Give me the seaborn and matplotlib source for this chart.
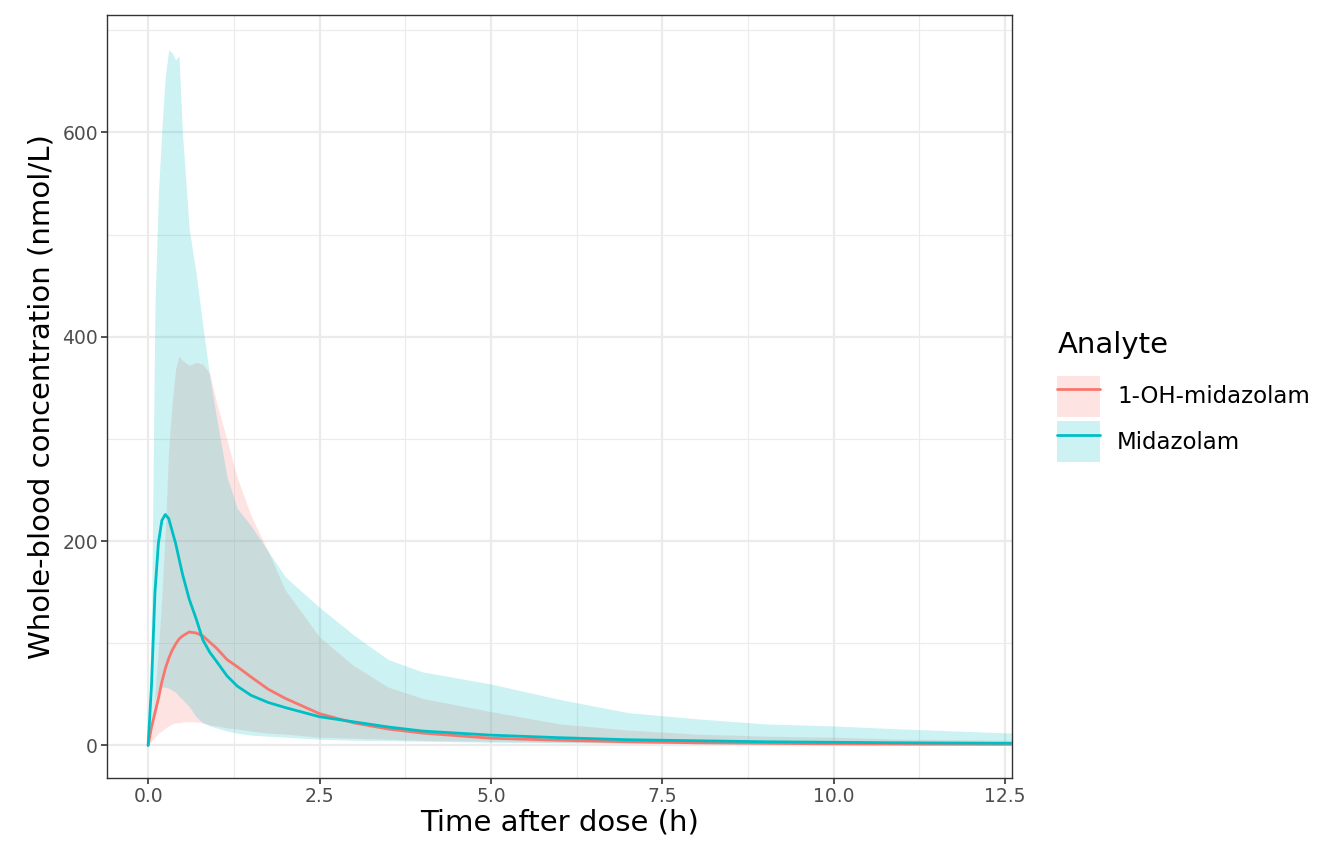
import matplotlib
matplotlib.use("Agg")
import matplotlib.pyplot as plt
import seaborn as sns
import pandas as pd
import numpy as np
from matplotlib.patches import Patch
from matplotlib.lines import Line2D
from matplotlib.ticker import MultipleLocator

# time grid (h)
time_h = [0, 0.05, 0.1, 0.15, 0.2, 0.25, 0.3, 0.35, 0.4, 0.45, 0.5, 0.6, 0.7, 0.8, 0.9, 1.0,
          1.15, 1.3, 1.5, 1.75, 2.0, 2.5, 3.0, 3.5, 4.0, 5.0, 6.0, 7.0, 8.0, 9.0, 10.0, 11.0, 12.6]

# Midazolam: median and band
mid_med = [0, 60, 150, 198, 220, 226, 222, 210, 198, 183, 168, 143, 124, 103, 91, 82,
           68, 58, 49, 42, 37, 28, 23, 18, 14, 10, 7.5, 5.5, 4.5, 3.5, 3, 2.5, 2]
mid_lo = [0, 20, 45, 55, 57, 57, 56, 54, 52, 48, 45, 38, 28, 22, 19, 17,
          14, 12, 10, 9, 8, 6, 5, 4.5, 4, 3, 2.5, 2, 1.5, 1.2, 1, 0.8, 0.5]
mid_hi = [0, 130, 430, 540, 603, 655, 681, 678, 671, 675, 600, 505, 462, 410, 360, 320,
          263, 232, 215, 190, 165, 135, 108, 84, 72, 60, 45, 32, 26, 21, 19, 16, 12]

# 1-OH-midazolam: median and band
oh_med = [0, 18, 32, 46, 62, 75, 85, 93, 99, 104, 107, 111, 110, 107, 101, 95,
          84, 77, 67, 55, 46, 31, 22, 16, 12, 7, 5, 3.5, 2.5, 2, 1.5, 1.2, 1]
oh_lo = [0, 4, 8, 12, 14, 17, 19, 21, 22, 22, 23, 23, 23, 22, 20, 19,
         17, 16, 14, 12, 11, 8, 7, 6, 5, 4, 3, 2.5, 2, 1.6, 1.4, 1.2, 1]
oh_hi = [0, 15, 50, 95, 145, 210, 290, 335, 368, 381, 377, 372, 375, 373, 364, 335,
         299, 262, 225, 190, 152, 106, 78, 57, 46, 33, 21, 15, 11, 9, 8, 6, 5]

analytes = ["1-OH-midazolam", "Midazolam"]
colors = {"1-OH-midazolam": "#F8766D", "Midazolam": "#00BFC4"}

df = pd.concat([
    pd.DataFrame({"time": time_h, "conc": oh_med, "lo": oh_lo, "hi": oh_hi, "Analyte": analytes[0]}),
    pd.DataFrame({"time": time_h, "conc": mid_med, "lo": mid_lo, "hi": mid_hi, "Analyte": analytes[1]}),
])

sns.set_style("white")
plt.rcParams['font.family'] = ['DejaVu Sans']
plt.rcParams['text.color'] = 'black'
plt.rcParams['axes.labelcolor'] = 'black'

fig = plt.figure(figsize=(13.44, 8.64), dpi=100)
ax = fig.add_axes([0.0796, 0.0995, 0.6734, 0.8831])

# ribbons
for a in analytes:
    sub = df[df["Analyte"] == a]
    ax.fill_between(sub["time"], sub["lo"], sub["hi"], color=colors[a], alpha=0.2, linewidth=0, zorder=2)

# median lines
sns.lineplot(data=df, x="time", y="conc", hue="Analyte", palette=colors, ax=ax,
             linewidth=2, legend=False, zorder=3)

ax.set_xlim(-0.6, 12.6)
ax.set_ylim(-32, 715)
ax.xaxis.set_major_locator(MultipleLocator(2.5))
ax.xaxis.set_minor_locator(MultipleLocator(1.25))
ax.yaxis.set_major_locator(MultipleLocator(200))
ax.yaxis.set_minor_locator(MultipleLocator(100))
ax.xaxis.set_major_formatter(matplotlib.ticker.FormatStrFormatter("%.1f"))
ax.grid(which="major", color="#EBEBEB", linewidth=1.6, zorder=0)
ax.grid(which="minor", color="#EBEBEB", linewidth=0.8, zorder=0)
ax.set_axisbelow(True)
for s in ax.spines.values():
    s.set_color("#333333")
    s.set_linewidth(1.0)
ax.tick_params(which="major", bottom=True, left=True, direction="out", length=4,
               width=1.2, color="#333333", labelsize=13.5, labelcolor="#4D4D4D", pad=2.5)
ax.tick_params(which="minor", length=0)

ax.set_xlabel("Time after dose (h)", fontsize=21, labelpad=2)
ax.set_ylabel("Whole-blood concentration (nmol/L)", fontsize=21, labelpad=5)

handles = [(Patch(facecolor=colors[a], alpha=0.2, edgecolor="none"),
            Line2D([], [], color=colors[a], linewidth=2)) for a in analytes]
leg = ax.legend(handles, analytes, title="Analyte", loc="center left",
                bbox_to_anchor=(1.04, 0.5), frameon=False, fontsize=16.5,
                title_fontsize=21, handlelength=1.85, handleheight=2.4,
                labelspacing=0.17, handletextpad=0.75, borderaxespad=0)
leg._legend_box.align = "left"
leg._legend_box.sep = 12

fig.savefig("out.png", dpi=100)
